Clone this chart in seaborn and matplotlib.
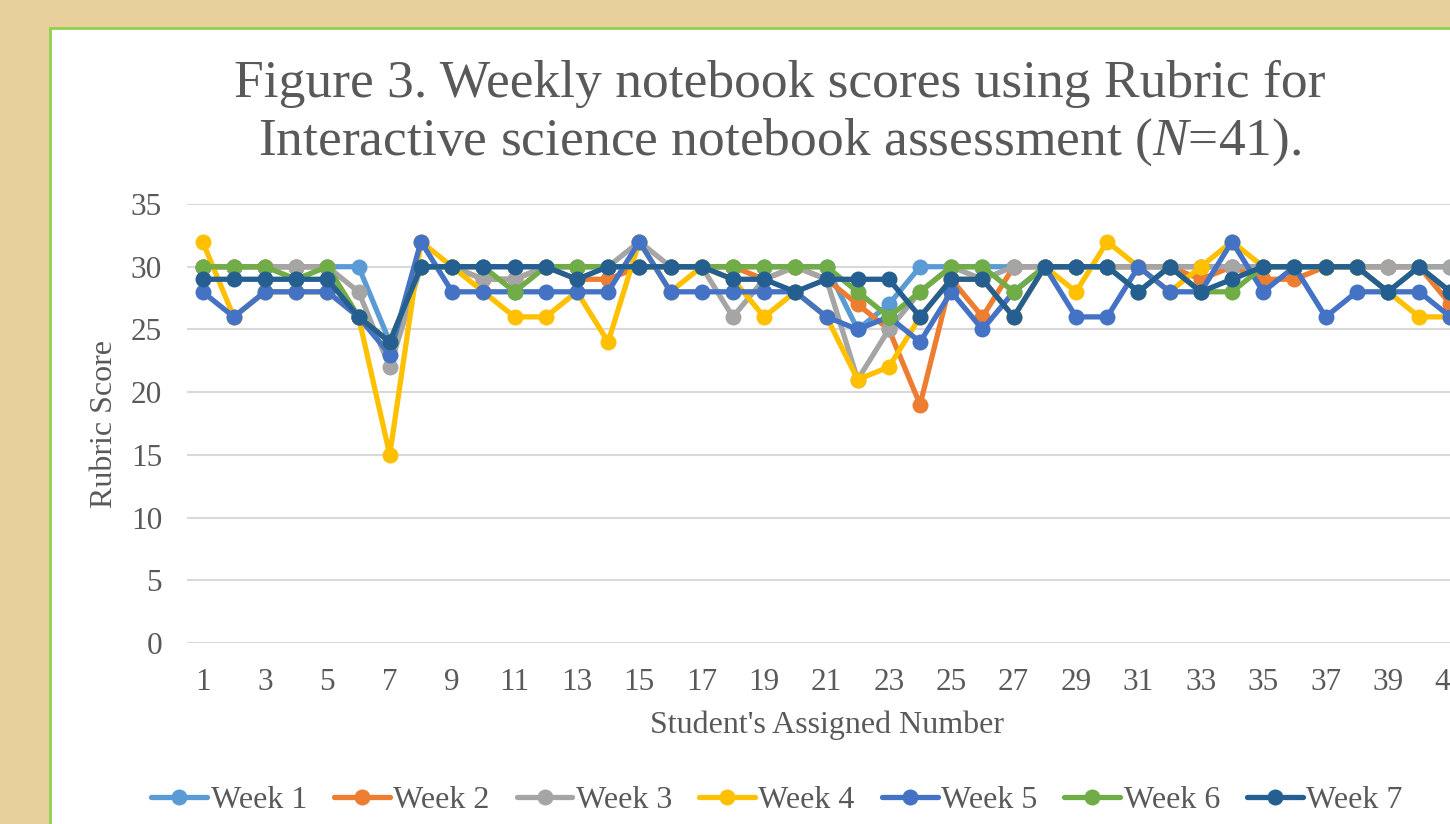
import matplotlib
matplotlib.use("Agg")
import matplotlib.pyplot as plt
from matplotlib.patches import Rectangle
import seaborn as sns
import pandas as pd

students = list(range(1, 42))
weeks = ["Week 1", "Week 2", "Week 3", "Week 4", "Week 5", "Week 6", "Week 7"]

week1 = [30, 30, 30, 30, 30, 30, 24, 30, 30, 30, 30, 30, 30, 30, 30, 30, 30, 30, 30, 30,
         30, 25, 27, 30, 30, 30, 30, 30, 30, 30, 30, 30, 30, 30, 30, 30, 30, 30, 30, 30, 30]
week2 = [30, 30, 30, 30, 30, 26, 24, 30, 30, 29, 29, 30, 29, 29, 30, 30, 30, 30, 29, 30,
         29, 27, 25, 19, 29, 26, 30, 30, 30, 30, 30, 30, 29, 30, 29, 29, 30, 30, 30, 30, 27]
week3 = [30, 30, 30, 30, 30, 28, 22, 30, 30, 29, 29, 30, 30, 30, 32, 30, 30, 26, 29, 30,
         29, 21, 25, 28, 30, 29, 30, 30, 30, 30, 30, 30, 30, 30, 30, 30, 30, 30, 30, 30, 30]
week4 = [32, 26, 28, 28, 28, 26, 15, 32, 30, 28, 26, 26, 28, 24, 32, 28, 30, 29, 26, 28,
         26, 21, 22, 26, 29, 29, 26, 30, 28, 32, 30, 28, 30, 32, 30, 30, 30, 30, 28, 26, 26]
week5 = [28, 26, 28, 28, 28, 26, 23, 32, 28, 28, 28, 28, 28, 28, 32, 28, 28, 28, 28, 28,
         26, 25, 26, 24, 28, 25, 28, 30, 26, 26, 30, 28, 28, 32, 28, 30, 26, 28, 28, 28, 26]
week6 = [30, 30, 30, 29, 30, 26, 24, 30, 30, 30, 28, 30, 30, 30, 30, 30, 30, 30, 30, 30,
         30, 28, 26, 28, 30, 30, 28, 30, 30, 30, 28, 30, 28, 28, 30, 30, 30, 30, 28, 30, 28]
week7 = [29, 29, 29, 29, 29, 26, 24, 30, 30, 30, 30, 30, 29, 30, 30, 30, 30, 29, 29, 28,
         29, 29, 29, 26, 29, 29, 26, 30, 30, 30, 28, 30, 28, 29, 30, 30, 30, 30, 28, 30, 28]

series = [week1, week2, week3, week4, week5, week6, week7]
colors = ["#5B9BD5", "#ED7D31", "#A5A5A5", "#FFC000", "#4472C4", "#70AD47", "#255E91"]

yticks = [0, 5, 10, 15, 20, 25, 30, 35]
xticks = list(range(1, 42, 2))

title = "Figure 3. Weekly notebook scores using Rubric for\nInteractive science notebook assessment ($N$=41)."
xlabel = "Student's Assigned Number"
ylabel = "Rubric Score"

rows = []
for w, vals in zip(weeks, series):
    for s, v in zip(students, vals):
        rows.append({"Student": s, "Score": v, "Week": w})
df = pd.DataFrame(rows)

sns.set_theme(style="white")
plt.rcParams["font.family"] = ["Liberation Serif", "DejaVu Serif"]
plt.rcParams["mathtext.fontset"] = "custom"
plt.rcParams["mathtext.rm"] = "Liberation Serif"
plt.rcParams["mathtext.it"] = "Liberation Serif:italic"

W, H = 1450, 824
fig = plt.figure(figsize=(W / 100, H / 100), dpi=100)
fig.patch.set_facecolor("#E7D09C")

fig.patches.append(Rectangle((50 / W, -0.2), 1.2, 1 - 28 / H + 0.2, transform=fig.transFigure,
                             facecolor="white", edgecolor="#92D050", linewidth=2, zorder=-5))

ax = fig.add_axes([187 / W, 1 - 643 / H, 1279 / W, 439 / H])
ax.set_facecolor("none")
ax.set_zorder(2)

sns.lineplot(data=df, x="Student", y="Score", hue="Week", hue_order=weeks, palette=colors,
             marker="o", markersize=11.5, markeredgewidth=0, linewidth=3.8, sort=False,
             legend=True, ax=ax, clip_on=False)

ax.set_xlim(0.5, 41.5)
ax.set_ylim(0, 35)
ax.set_yticks(yticks)
ax.set_xticks(xticks)
ax.set_xticklabels([str(t) for t in xticks])
ax.tick_params(axis="both", length=0, labelsize=22.5, labelcolor="#595959")
ax.tick_params(axis="y", pad=18)
ax.tick_params(axis="x", pad=18)
ax.grid(axis="y", color="#D9D9D9", linewidth=1.5)
ax.grid(axis="x", visible=False)
ax.set_axisbelow(True)
for sp in ax.spines.values():
    sp.set_visible(False)

ax.set_xlabel(xlabel, fontsize=23, color="#595959")
ax.set_ylabel(ylabel, fontsize=23, color="#595959")
ax.xaxis.set_label_coords(0.5, (643 - 725) / 439)
ax.xaxis.label.set_va("center")
ax.yaxis.set_label_coords((105 - 187) / 1279, 0.5)
ax.yaxis.label.set_va("center")

handles, labels = ax.get_legend_handles_labels()
ax.get_legend().remove()
leg = fig.legend(handles, labels, loc="center", bbox_to_anchor=(777 / W, 1 - 800 / H), ncol=7,
                 frameon=False, fontsize=23, labelcolor="#595959", handlelength=1.75,
                 handletextpad=0.1, columnspacing=0.85, borderaxespad=0)
leg.set_zorder(3)

fig.text(780 / W, 1 - 114 / H, title, ha="center", va="center", fontsize=38.5,
         color="#595959", linespacing=1.24, multialignment="center", zorder=3)

fig.savefig("out.png", dpi=100, facecolor=fig.get_facecolor())
